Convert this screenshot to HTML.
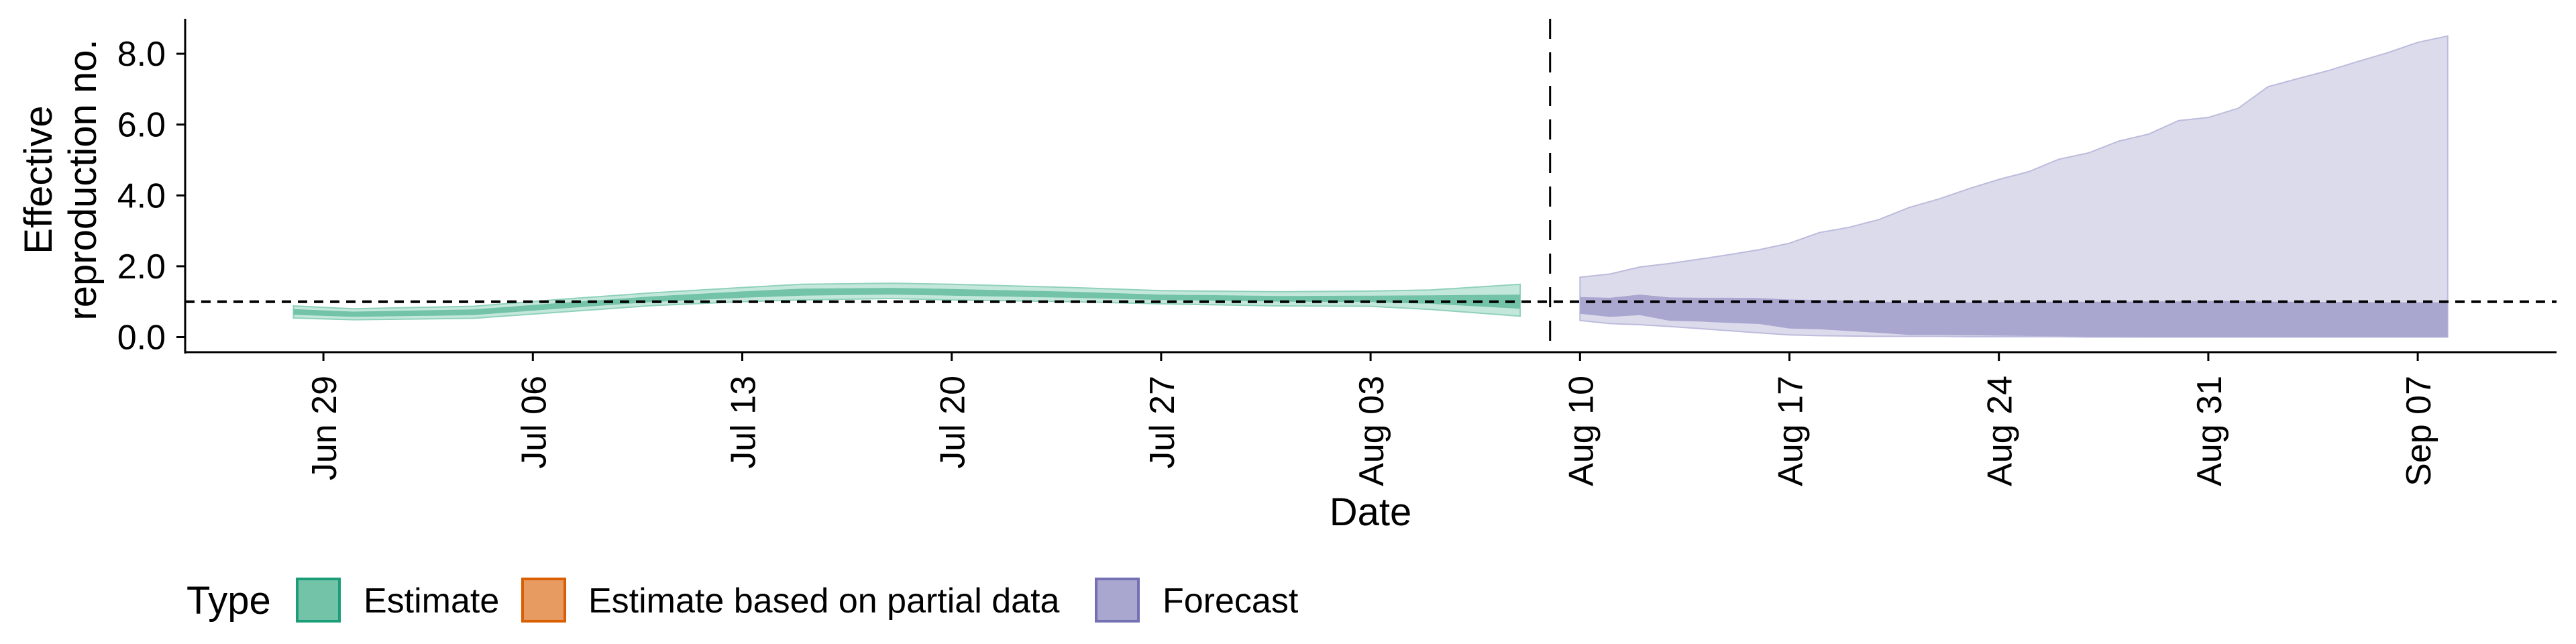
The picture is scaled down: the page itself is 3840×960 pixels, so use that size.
<!DOCTYPE html>
<html><head><meta charset="utf-8">
<style>
html,body{margin:0;padding:0;background:#fff;}
svg{display:block;font-family:"Liberation Sans",Arial,sans-serif;}
</style></head>
<body>
<svg id="chart" width="3840" height="960" viewBox="0 0 3840 960" xmlns="http://www.w3.org/2000/svg">
  <g id="marks"></g>
  <g id="axes"></g>
  <text x="2043" y="783" font-size="58" text-anchor="middle">Date</text>
  <text transform="translate(77,268) rotate(-90)" font-size="58" text-anchor="middle">Effective</text>
  <text transform="translate(143,268) rotate(-90)" font-size="58" text-anchor="middle">reproduction no.</text>
  <g>
    <text x="278" y="915" font-size="58">Type</text>
    <rect x="443" y="863" width="63" height="63" fill="#72c3a8" stroke="#1b9e77" stroke-width="4"/>
    <text x="542" y="913" font-size="52">Estimate</text>
    <rect x="779" y="863" width="63" height="63" fill="#e89b61" stroke="#d95f02" stroke-width="4"/>
    <text x="877" y="913" font-size="52">Estimate based on partial data</text>
    <rect x="1634" y="863" width="63" height="63" fill="#a9a6d0" stroke="#7570b3" stroke-width="4"/>
    <text x="1733" y="913" font-size="52">Forecast</text>
  </g>
</svg>
<script>
// ---- data ----
const tickLabels = ["Jun 29","Jul 06","Jul 13","Jul 20","Jul 27","Aug 03","Aug 10","Aug 17","Aug 24","Aug 31","Sep 07"];
const tickDays = [1,8,15,22,29,36,43,50,57,64,71];
const yTicks = [0,2,4,6,8];
const yTickLabels = ["0.0","2.0","4.0","6.0","8.0"];
const estDays = [0,2,6,9,12,15,17,20,22,26,29,33,36,38,41];
const estUpper90 = [0.88,0.80,0.87,1.07,1.25,1.40,1.49,1.52,1.49,1.40,1.31,1.28,1.30,1.33,1.49];
const estLower90 = [0.54,0.49,0.53,0.71,0.89,1.00,1.05,1.09,1.05,1.00,0.94,0.88,0.87,0.78,0.59];
const estUpper50 = [0.79,0.72,0.78,0.97,1.15,1.29,1.37,1.39,1.36,1.28,1.20,1.16,1.17,1.18,1.20];
const estLower50 = [0.63,0.57,0.62,0.81,0.99,1.11,1.17,1.20,1.17,1.11,1.05,1.00,0.99,0.94,0.80];
const fcStartDay = 43;
const fcUpper90 = [1.69,1.78,1.98,2.08,2.20,2.33,2.47,2.65,2.95,3.10,3.32,3.66,3.90,4.19,4.45,4.67,5.02,5.20,5.53,5.73,6.11,6.20,6.46,7.07,7.30,7.52,7.78,8.03,8.32,8.50];
const fcLower90 = [0.47,0.38,0.35,0.30,0.24,0.18,0.12,0.06,0.04,0.03,0.02,0.02,0.02,0.01,0.01,0.01,0.01,0,0,0,0,0,0,0,0,0,0,0,0,0];
const fcUpper50 = [1.13,1.11,1.20,1.12,1.11,1.11,1.10,1.06,1.05,1.02,1.00,0.97,0.97,0.98,0.99,0.99,1.00,1.00,1.00,1.01,1.01,1.02,1.02,1.00,1.00,0.99,0.99,0.98,0.98,0.98];
const fcLower50 = [0.66,0.57,0.62,0.46,0.44,0.40,0.37,0.24,0.22,0.17,0.12,0.06,0.06,0.05,0.04,0.03,0.02,0.01,0.01,0,0,0,0,0,0,0,0,0,0,0];
const cutoffDay = 42;
const refValue = 1;

// ---- scales ----
const X0 = 437.5, DX = 44.6;
const xs = d => X0 + DX * d;
const Y0 = 502.5, DY = 52.8;
const ys = v => Y0 - DY * v;
const L = 276, R = 3811, T = 28, B = 525;
const NS = "http://www.w3.org/2000/svg";
const marks = document.getElementById('marks');
const axes = document.getElementById('axes');
function mk(tag, attrs, parent){
  const e = document.createElementNS(NS, tag);
  for (const k in attrs) e.setAttribute(k, attrs[k]);
  parent.appendChild(e);
  return e;
}
function band(days, up, lo){
  let p = "";
  days.forEach((d,i)=>{ p += (i?"L":"M") + xs(d).toFixed(1) + "," + ys(up[i]).toFixed(1); });
  for (let i = days.length-1; i >= 0; i--) p += "L" + xs(days[i]).toFixed(1) + "," + ys(lo[i]).toFixed(1);
  return p + "Z";
}
const fcDays = fcUpper90.map((_,i)=>fcStartDay+i);

let e;
e = mk('path', {d: band(estDays, estUpper90, estLower90), fill:"#c4e7dc", stroke:"#8fd1bb", "stroke-width":2}, marks);


e = mk('path', {d: band(estDays, estUpper50, estLower50), fill:"#72c3a8"}, marks);


e = mk('path', {d: band(fcDays, fcUpper90, fcLower90), fill:"#dcdbeb", stroke:"#bdbbdc", "stroke-width":2}, marks);


e = mk('path', {d: band(fcDays, fcUpper50, fcLower50), fill:"#a9a6d0"}, marks);



e = mk('line', {x1:L, x2:R, y1:ys(refValue), y2:ys(refValue), stroke:"#000", "stroke-width":4, "stroke-dasharray":"14 10"}, marks);


e = mk('line', {x1:xs(cutoffDay), x2:xs(cutoffDay), y1:T, y2:B, stroke:"#000", "stroke-width":3, "stroke-dasharray":"30 20"}, marks);



// axes
e = mk('line', {x1:L, x2:L, y1:T, y2:B+2, stroke:"#000", "stroke-width":3}, axes);


e = mk('line', {x1:L-1, x2:R, y1:B, y2:B, stroke:"#000", "stroke-width":3}, axes);


yTicks.forEach((v,i)=>{
  let t = mk('line', {x1:L-13, x2:L, y1:ys(v), y2:ys(v), stroke:"#000", "stroke-width":3}, axes);
  
  
  let lb = mk('text', {x:247, y:ys(v)+18, "font-size":52, "text-anchor":"end"}, axes);
  lb.textContent = yTickLabels[i];
  
  
});
tickDays.forEach((d,i)=>{
  const x = xs(d);
  let t = mk('line', {x1:x, x2:x, y1:B, y2:B+13, stroke:"#000", "stroke-width":3}, axes);
  
  
  let lb = mk('text', {transform:`translate(${(x+19).toFixed(1)},560) rotate(-90)`, "font-size":52, "text-anchor":"end"}, axes);
  lb.textContent = tickLabels[i];
  
  
});
</script>
</body></html>
